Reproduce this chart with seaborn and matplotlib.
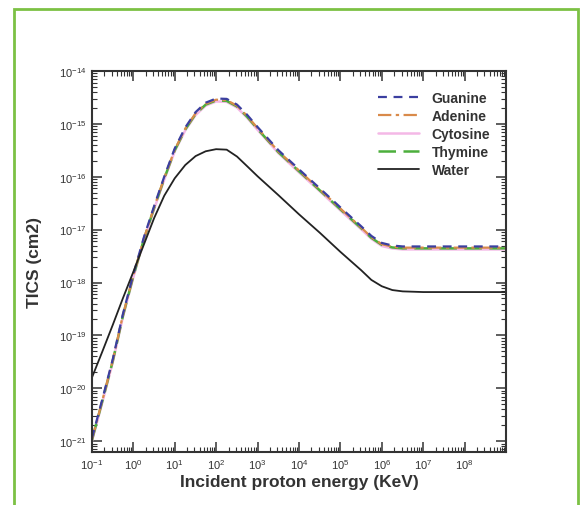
import matplotlib
matplotlib.use("Agg")
import matplotlib.pyplot as plt
from matplotlib.patches import Rectangle
from matplotlib.ticker import LogLocator, NullFormatter
import seaborn as sns
import pandas as pd

# Incident proton energy (keV)
energy_kev = [0.1, 0.18, 0.32, 0.56, 1, 1.8, 3.2, 5.6, 10, 18, 32, 56, 100, 180, 320, 560,
              1e3, 3.2e3, 1e4, 3.2e4, 1e5, 3.2e5, 5.6e5, 1e6, 1.8e6, 3.2e6, 1e7, 1e8, 1e9]

# Total ionization cross sections (cm2)
guanine = [1.12e-21, 6.3e-21, 3.55e-20, 2.5e-19, 1.41e-18, 7.1e-18, 2.8e-17, 1.0e-16,
           3.4e-16, 8.5e-16, 1.66e-15, 2.5e-15, 3.0e-15, 2.95e-15, 2.3e-15, 1.48e-15,
           8.7e-16, 3.16e-16, 1.38e-16, 6.0e-17, 2.63e-17, 1.15e-17, 7.6e-18, 5.6e-18,
           5.0e-18, 4.8e-18, 4.8e-18, 4.8e-18, 4.8e-18]
adenine = [1.06e-21, 6.0e-21, 3.37e-20, 2.38e-19, 1.34e-18, 6.7e-18, 2.66e-17, 9.5e-17,
           3.23e-16, 8.1e-16, 1.58e-15, 2.38e-15, 2.85e-15, 2.8e-15, 2.19e-15, 1.41e-15,
           8.3e-16, 3.0e-16, 1.31e-16, 5.7e-17, 2.5e-17, 1.09e-17, 7.2e-18, 5.3e-18,
           4.75e-18, 4.56e-18, 4.56e-18, 4.56e-18, 4.56e-18]
cytosine = [0.99e-21, 5.5e-21, 3.12e-20, 2.2e-19, 1.24e-18, 6.25e-18, 2.46e-17, 8.8e-17,
            3.0e-16, 7.5e-16, 1.46e-15, 2.2e-15, 2.64e-15, 2.6e-15, 2.02e-15, 1.3e-15,
            7.7e-16, 2.78e-16, 1.21e-16, 5.3e-17, 2.31e-17, 1.01e-17, 6.7e-18, 4.9e-18,
            4.4e-18, 4.22e-18, 4.22e-18, 4.22e-18, 4.22e-18]
thymine = [1.03e-21, 5.8e-21, 3.27e-20, 2.3e-19, 1.3e-18, 6.5e-18, 2.58e-17, 9.2e-17,
           3.13e-16, 7.8e-16, 1.53e-15, 2.3e-15, 2.76e-15, 2.71e-15, 2.12e-15, 1.36e-15,
           8.0e-16, 2.9e-16, 1.27e-16, 5.5e-17, 2.42e-17, 1.06e-17, 7.0e-18, 5.15e-18,
           4.6e-18, 4.42e-18, 4.42e-18, 4.42e-18, 4.42e-18]
water = [1.58e-20, 5.0e-20, 1.58e-19, 5.0e-19, 1.58e-18, 5.2e-18, 1.66e-17, 4.37e-17,
         9.3e-17, 1.66e-16, 2.45e-16, 3.02e-16, 3.31e-16, 3.24e-16, 2.4e-16, 1.58e-16,
         1.02e-16, 4.47e-17, 1.95e-17, 8.7e-18, 3.8e-18, 1.7e-18, 1.12e-18, 8.5e-19,
         7.2e-19, 6.8e-19, 6.6e-19, 6.6e-19, 6.6e-19]

x_tick_values = [1e-1, 1e0, 1e1, 1e2, 1e3, 1e4, 1e5, 1e6, 1e7, 1e8, 1e9]
x_tick_labels = [r"$10^{-1}$", r"$10^{0}$", r"$10^{1}$", r"$10^{2}$", r"$10^{3}$",
                 r"$10^{4}$", r"$10^{5}$", r"$10^{6}$", r"$10^{7}$", r"$10^{8}$", ""]
y_tick_values = [1e-21, 1e-20, 1e-19, 1e-18, 1e-17, 1e-16, 1e-15, 1e-14]
y_tick_labels = [r"$10^{-21}$", r"$10^{-20}$", r"$10^{-19}$", r"$10^{-18}$",
                 r"$10^{-17}$", r"$10^{-16}$", r"$10^{-15}$", r"$10^{-14}$"]

sns.set_style("ticks")
plt.rcParams["font.family"] = ["Liberation Sans", "DejaVu Sans"]
plt.rcParams["mathtext.default"] = "regular"

fig = plt.figure(figsize=(5.85, 5.06), dpi=100)
fig.patch.set_facecolor("white")
ax = fig.add_axes([0.157, 0.105, 0.708, 0.753])

# green frame around the panel
fig.patches.append(Rectangle((0.024, -0.05), 0.964, 1.03, transform=fig.transFigure,
                             fill=False, edgecolor="#7cc144", linewidth=2.0, zorder=0))

df = pd.DataFrame({"energy": energy_kev})
styles = [
    ("Cytosine", cytosine, "#f4b8e6", "-", 1.8),
    ("Thymine", thymine, "#4caf3c", (0, (7, 3)), 1.8),
    ("Adenine", adenine, "#d98a4a", (0, (6, 2, 1.5, 2)), 1.6),
    ("Guanine", guanine, "#3b3fa0", (0, (4, 3)), 1.6),
    ("Water", water, "#222222", "-", 1.3),
]
handles = {}
for name, vals, color, ls, lw in styles:
    sns.lineplot(x=df["energy"], y=vals, ax=ax, color=color, linestyle=ls,
                 linewidth=lw, label=name)
    handles[name] = ax.lines[-1]

ax.set_xscale("log")
ax.set_yscale("log")
ax.set_xlim(1e-1, 1e9)
ax.set_ylim(6.3e-22, 1e-14)

ax.set_xticks(x_tick_values)
ax.set_xticklabels(x_tick_labels)
ax.set_yticks(y_tick_values)
ax.set_yticklabels(y_tick_labels)
ax.xaxis.set_minor_locator(LogLocator(base=10, subs=range(2, 10), numticks=20))
ax.yaxis.set_minor_locator(LogLocator(base=10, subs=range(2, 10), numticks=20))
ax.xaxis.set_minor_formatter(NullFormatter())
ax.yaxis.set_minor_formatter(NullFormatter())

ax.tick_params(which="both", direction="in", top=True, right=True, color="#333333")
ax.tick_params(which="major", length=7, width=1.1, labelsize=8, labelcolor="#333333", pad=4)
ax.tick_params(which="minor", length=3.5, width=0.8)
for sp in ax.spines.values():
    sp.set_linewidth(1.5)
    sp.set_color("#333333")

ax.set_xlabel("Incident proton energy (KeV)", fontsize=12.5, fontweight="bold",
              color="#333333", labelpad=2)
ax.set_ylabel("TICS (cm2)", fontsize=12.5, fontweight="bold", color="#333333", labelpad=12)

order = ["Guanine", "Adenine", "Cytosine", "Thymine", "Water"]
ax.legend([handles[n] for n in order], order, loc="upper left",
          bbox_to_anchor=(0.69, 0.948), frameon=False, handlelength=3.0,
          handletextpad=0.9, labelspacing=0.3, borderpad=0, borderaxespad=0,
          prop={"weight": "bold", "size": 10})
for t in ax.get_legend().get_texts():
    t.set_color("#333333")

fig.savefig("out.png", dpi=100, facecolor="white")
